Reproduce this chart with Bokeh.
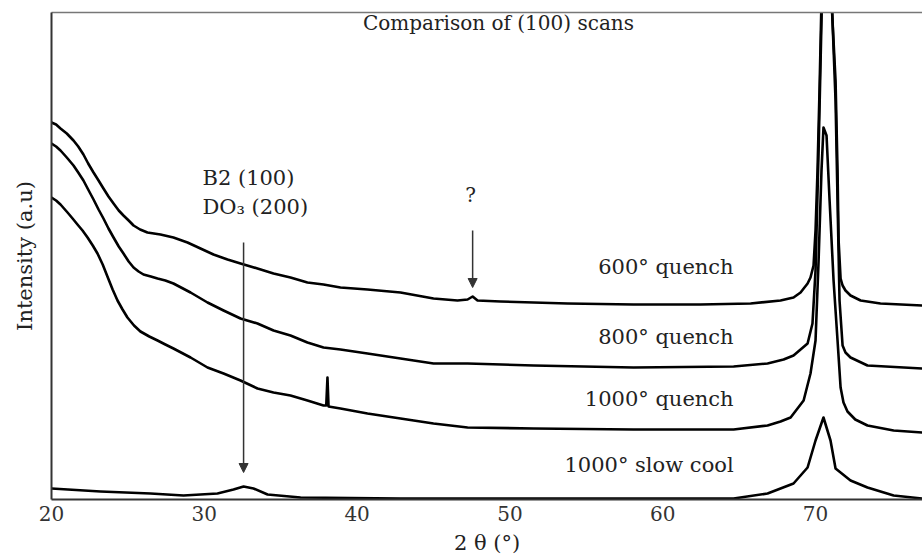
from bokeh.plotting import figure
from bokeh.models import Arrow, NormalHead, Label, LinearAxis, FixedTicker, Range1d
from bokeh.embed import file_html
from bokeh.resources import INLINE

FONT = "DejaVu Serif"

# ---- data: 2-theta (deg) and intensity (a.u.) ----
q600_x = [20.00, 20.30, 20.59, 21.00, 21.44, 21.75, 22.09, 22.40, 22.75, 23.08, 23.40, 23.73,
          24.06, 24.40, 24.71, 25.05, 25.37, 25.80, 26.28, 26.70, 27.13, 27.98,
          28.90, 29.75, 30.60, 31.52, 32.37, 33.48, 34.53, 35.64, 36.75, 37.80, 38.91, 40.68,
          42.84, 45.00, 46.57, 47.23, 47.56, 47.88, 49.39, 53.77, 58.09, 62.47, 65.75, 67.71,
          68.56, 69.02, 69.48, 69.67, 69.87, 70.00, 70.13, 70.26, 70.39, 70.52, 70.72, 70.92,
          71.11, 71.31, 71.44, 71.51, 71.64, 71.77, 71.96, 72.29, 72.95, 74.25, 77.00]
q600_y = [377, 375, 371, 366, 359, 353, 345, 336, 327, 319, 311, 303,
          296, 289, 284, 279, 274, 270, 267, 266, 265, 262,
          257, 251, 245, 240, 236, 231, 226, 222, 217, 215, 212, 210,
          207, 201, 199, 200, 203, 199, 198, 196, 195, 195, 196, 199,
          202, 207, 216, 222, 234, 269, 329, 409, 499, 619, 639, 539,
          479, 419, 329, 259, 221, 214, 209, 204, 199, 196, 194]

q800_x = [20.00, 20.30, 20.59, 21.00, 21.44, 21.75, 22.09, 22.40, 22.75, 23.08, 23.40, 23.73,
          24.06, 24.40, 24.71, 25.05, 25.37, 25.70, 26.02, 26.50, 26.94, 27.45, 27.98,
          29.10, 30.21, 31.26, 32.37, 33.48, 34.53, 35.64, 36.75, 37.80, 38.91, 40.68, 42.84,
          45.00, 47.23, 51.55, 58.09, 64.64, 66.86, 67.91, 68.56, 69.48, 69.80, 70.00, 70.20,
          70.39, 70.59, 70.72, 70.92, 71.11, 71.31, 71.44, 71.57, 71.77, 71.96, 72.29, 73.40, 77.00]
q800_y = [356, 353, 349, 342, 334, 327, 319, 310, 300, 290, 281, 271,
          262, 253, 246, 238, 232, 228, 225, 223, 221, 219, 216,
          207, 197, 189, 181, 176, 169, 164, 157, 152, 150, 146, 141,
          136, 136, 134, 132, 133, 136, 140, 144, 156, 176, 229, 349,
          479, 649, 669, 559, 479, 399, 299, 199, 154, 147, 142, 134, 131]

q1000_x = [20.00, 20.30, 20.59, 21.05, 21.38, 21.70, 22.03, 22.36, 22.70, 23.01, 23.35, 23.66,
           24.00, 24.32, 24.65, 24.97, 25.40, 25.82, 26.40, 26.94, 27.45, 27.98,
           29.10, 30.21, 31.26, 32.37, 33.48, 34.53, 35.64, 36.75, 37.80, 37.98, 38.06, 38.13,
           38.91, 40.68, 42.84, 45.00, 47.23, 51.55, 58.09, 64.64, 66.86, 67.71, 68.37, 69.22,
           69.67, 70.00, 70.20, 70.39, 70.52, 70.72, 70.92, 71.18, 71.44, 71.64, 71.83, 72.09,
           72.60, 73.40, 75.11, 77.00]
q1000_y = [302, 299, 295, 287, 281, 275, 269, 262, 254, 246, 235, 223,
           210, 199, 190, 182, 174, 168, 163, 159, 155, 151,
           142, 132, 126, 119, 111, 107, 104, 99, 94, 94, 122, 93,
           91, 86, 81, 76, 72, 71, 70, 70, 74, 78, 82, 99,
           126, 159, 239, 329, 372, 364, 299, 219, 159, 112, 97, 88,
           80, 74, 69, 67]

slow_x = [20.00, 23.21, 26.48, 28.64, 29.75, 30.86, 31.91, 32.57, 33.22, 34.14, 36.30, 42.84,
          64.64, 66.86, 68.56, 69.48, 70.00, 70.52, 70.98, 71.31, 72.29, 73.40, 75.11, 77.00]
slow_y = [11, 8, 6, 4, 5, 6, 10, 13, 11, 5, 2, 1,
          1, 6, 16, 32, 59, 82, 59, 31, 19, 12, 4, 1]

tick_values = [20, 30, 40, 50, 60, 70]

series_labels = ["600° quench", "800° quench", "1000° quench", "1000° slow cool"]
label_x = [64.64, 64.64, 64.64, 64.64]
label_y = [233, 163, 101, 35]

# peak markers: (x, arrow top, arrow tip)
b2_peak = (32.57, 257, 27)
unknown_peak = (47.56, 269, 212)

p = figure(width=922, height=560, x_range=Range1d(20, 77), y_range=Range1d(0, 487),
           output_backend="svg", toolbar_location=None,
           min_border_left=51, min_border_right=0, min_border_top=12, min_border_bottom=61)
p.xgrid.visible = False
p.ygrid.visible = False
p.outline_line_color = None
p.background_fill_color = "white"
p.border_fill_color = "white"

# x axis
p.xaxis.ticker = FixedTicker(ticks=tick_values)
p.xaxis.major_tick_out = 0
p.xaxis.major_tick_in = 0
p.xaxis.minor_tick_line_color = None
p.xaxis.major_label_standoff = 6
p.xaxis.major_label_text_font = FONT
p.xaxis.major_label_text_font_size = "20px"
p.xaxis.major_label_text_color = "#333333"
p.xaxis.axis_line_color = "#333333"
p.xaxis.axis_line_width = 2
p.xaxis.axis_label = "2 θ (°)"
p.xaxis.axis_label_text_font = FONT
p.xaxis.axis_label_text_font_size = "21px"
p.xaxis.axis_label_text_font_style = "normal"
p.xaxis.axis_label_text_color = "#222222"
p.xaxis.axis_label_standoff = 7

# y axis
p.yaxis.ticker = FixedTicker(ticks=[])
p.yaxis.major_tick_out = 0
p.yaxis.major_tick_in = 0
p.yaxis.minor_tick_line_color = None
p.yaxis.major_label_text_font_size = "0px"
p.yaxis.axis_line_color = "#333333"
p.yaxis.axis_line_width = 2
p.yaxis.axis_label = "Intensity (a.u)"
p.yaxis.axis_label_text_font = FONT
p.yaxis.axis_label_text_font_size = "21px"
p.yaxis.axis_label_text_font_style = "normal"
p.yaxis.axis_label_text_color = "#222222"
p.yaxis.axis_label_standoff = 15

top_axis = LinearAxis(ticker=FixedTicker(ticks=[]), major_tick_out=0, major_tick_in=0,
                      minor_tick_line_color=None, major_label_text_font_size="0px",
                      axis_line_color="#777777", axis_line_width=1.5)
p.add_layout(top_axis, "above")

for xs, ys in [(q600_x, q600_y), (q800_x, q800_y), (q1000_x, q1000_y), (slow_x, slow_y)]:
    p.line(xs, ys, line_color="black", line_width=2.6, line_join="round")

for txt, lx, ly in zip(series_labels, label_x, label_y):
    p.add_layout(Label(x=lx, y=ly, text=txt, text_align="right", text_baseline="alphabetic",
                       text_font=FONT, text_font_size="21px", text_color="#222222"))

p.add_layout(Label(x=49.25, y=477, text="Comparison of (100) scans", text_align="center",
                   text_baseline="alphabetic", text_font=FONT, text_font_size="20px",
                   text_color="#222222"))
p.add_layout(Label(x=29.88, y=322, text="B2 (100)", text_align="left", text_baseline="alphabetic",
                   text_font=FONT, text_font_size="21px", text_color="#222222"))
p.add_layout(Label(x=29.88, y=293, text="DO₃ (200)", text_align="left", text_baseline="alphabetic",
                   text_font=FONT, text_font_size="21px", text_color="#222222"))
p.add_layout(Label(x=47.42, y=305, text="?", text_align="center", text_baseline="alphabetic",
                   text_font=FONT, text_font_size="20px", text_color="#222222"))

for (ax, ytop, ytip) in [b2_peak, unknown_peak]:
    p.add_layout(Arrow(x_start=ax, y_start=ytop, x_end=ax, y_end=ytip,
                       line_color="#333333", line_width=1.5,
                       end=NormalHead(size=9, line_color="#333333", fill_color="#333333")))

open("out.html", "w").write(file_html(p, INLINE))
